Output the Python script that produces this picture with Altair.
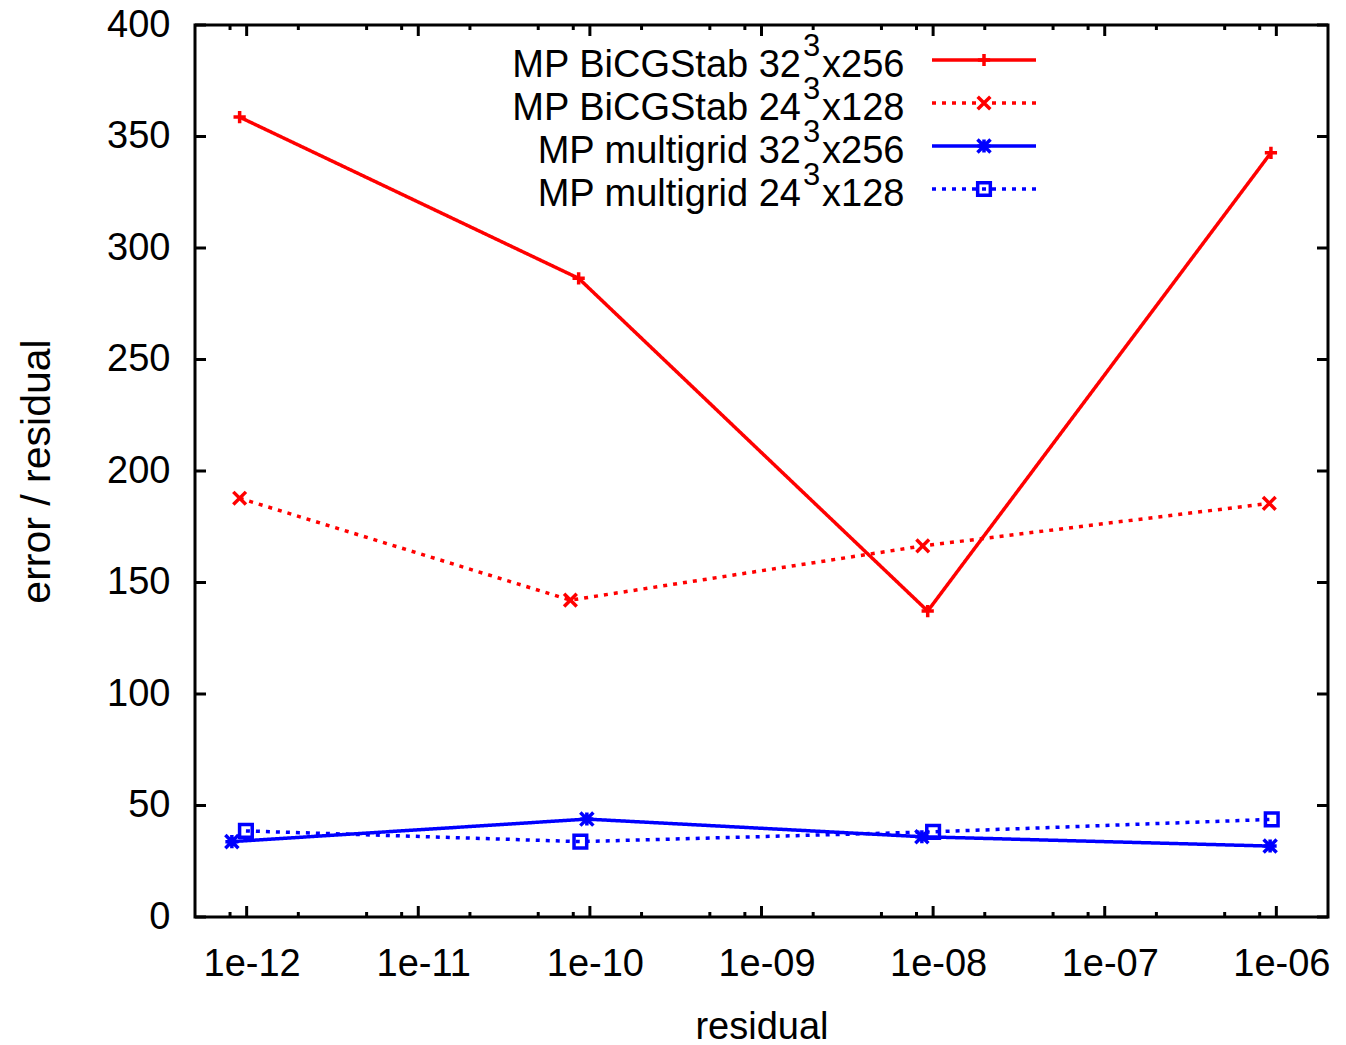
import altair as alt
import pandas as pd

# ---------------- data ----------------
series_names = [
    "MP BiCGStab 32^3x256",
    "MP BiCGStab 24^3x128",
    "MP multigrid 32^3x256",
    "MP multigrid 24^3x128",
]
bicg32_x = [9.1e-13, 8.6e-11, 9.3e-9, 9.3e-7]
bicg32_y = [358.7, 286.4, 137.2, 342.7]
bicg24_x = [9.1e-13, 7.7e-11, 8.7e-9, 9.1e-7]
bicg24_y = [187.8, 142.1, 166.4, 185.5]
mg32_x = [8.2e-13, 9.6e-11, 8.6e-9, 9.2e-7]
mg32_y = [33.8, 43.9, 36.0, 31.8]
mg24_x = [9.9e-13, 8.8e-11, 1.0e-8, 9.4e-7]
mg24_y = [38.6, 33.8, 38.2, 43.8]

x_major_ticks = [1e-12, 1e-11, 1e-10, 1e-9, 1e-8, 1e-7, 1e-6]
x_tick_labels = ["1e-12", "1e-11", "1e-10", "1e-09", "1e-08", "1e-07", "1e-06"]
x_minor_ticks = [8e-13,
                 2e-12, 5e-12, 8e-12,
                 2e-11, 5e-11, 8e-11,
                 2e-10, 5e-10, 8e-10,
                 2e-9, 5e-9, 8e-9,
                 2e-8, 5e-8, 8e-8,
                 2e-7, 5e-7, 8e-7]
y_ticks = [0, 50, 100, 150, 200, 250, 300, 350, 400]

legend_main = ["MP BiCGStab 32", "MP BiCGStab 24", "MP multigrid 32", "MP multigrid 24"]
legend_sup = ["3", "3", "3", "3"]
legend_tail = ["x256", "x128", "x256", "x128"]

# ---------------- styling ----------------
W, H = 1133, 892
FONT = "Liberation Sans"
FS = 38
LW = 3.5
RED, BLUE = "#ff0000", "#0000ff"
colors = [RED, RED, BLUE, BLUE]
dashes = [[1, 0], [4, 6], [1, 0], [4, 6]]
PLUS = "M-1,0L1,0M0,-1L0,1"
CROSS = "M-1,-1L1,1M-1,1L1,-1"
STAR = "M-1,0L1,0M0,-1L0,1M-1,-1L1,1M-1,1L1,-1"
SQUARE = "M-1,-1L1,-1L1,1L-1,1Z"
shapes = [PLUS, CROSS, STAR, SQUARE]
sizes = [150, 160, 170, 160]

xs = [bicg32_x, bicg24_x, mg32_x, mg24_x]
ys = [bicg32_y, bicg24_y, mg32_y, mg24_y]
rows = []
for name, sx, sy in zip(series_names, xs, ys):
    for a, b in zip(sx, sy):
        rows.append({"series": name, "x": a, "y": b})
df = pd.DataFrame(rows)

xscale = alt.Scale(type="log", domain=[5e-13, 2e-6], nice=False)
yscale = alt.Scale(domain=[0, 400], nice=False, zero=False)

label_expr = "[" + ",".join("'%s'" % s for s in x_tick_labels) + "][round(log(datum.value)/LN10)+12]"

x_axis = alt.Axis(
    values=x_major_ticks, labelExpr=label_expr, grid=False, domain=False, ticks=False,
    tickSize=0, labelFont=FONT, labelFontSize=FS, labelColor="black", labelPadding=28,
    labelOffset=5, labelFlush=False, labelOverlap=False, title="residual",
    titleFont=FONT, titleFontSize=FS, titleFontWeight="normal", titleColor="black",
    titleX=W / 2, titleY=121, titleBaseline="alphabetic", titleAlign="center",
)
y_axis = alt.Axis(
    values=y_ticks, grid=False, domain=False, ticks=False, tickSize=0,
    labelFont=FONT, labelFontSize=FS, labelColor="black", labelPadding=25,
    labelFlush=False, labelOverlap=False, title="error / residual",
    titleFont=FONT, titleFontSize=41, titleFontWeight="normal", titleColor="black",
    titleX=-146, titleY=H / 2, titleAngle=270, titleBaseline="alphabetic", titleAlign="center",
)

X = lambda: alt.X("x:Q", scale=xscale, axis=x_axis)
Y = lambda: alt.Y("y:Q", scale=yscale, axis=y_axis)

layers = []

# tick marks (inward, mirrored)
xmaj = pd.DataFrame({"x": x_major_ticks})
xmin = pd.DataFrame({"x": x_minor_ticks})
yt = pd.DataFrame({"y": y_ticks})
for dfx, ln in [(xmaj, 11), (xmin, 5)]:
    for y0, y1 in [(H, H - ln), (0, ln)]:
        layers.append(
            alt.Chart(dfx).mark_rule(color="black", strokeWidth=3).encode(
                x=X(), y=alt.value(y0), y2=alt.value(y1),
            )
        )
for x0, x1 in [(0, 11), (W, W - 11)]:
    layers.append(
        alt.Chart(yt).mark_rule(color="black", strokeWidth=3).encode(
            y=Y(), x=alt.value(x0), x2=alt.value(x1),
        )
    )

# data lines and points
for i, name in enumerate(series_names):
    sub = df[df.series == name]
    layers.append(
        alt.Chart(sub).mark_line(color=colors[i], strokeWidth=LW, strokeDash=dashes[i]).encode(
            x=X(), y=Y(),
        )
    )
for i, name in enumerate(series_names):
    sub = df[df.series == name]
    layers.append(
        alt.Chart(sub).mark_point(shape=shapes[i], filled=False, color=colors[i],
                                  strokeWidth=LW, size=sizes[i], opacity=1).encode(
            x=X(), y=Y(),
        )
    )

# legend (manual, gnuplot style)
one = pd.DataFrame({"k": [0]})
base_lines = [52, 95, 138, 181]
for i in range(4):
    b = base_lines[i]
    layers.append(alt.Chart(one).mark_text(font=FONT, fontSize=FS, align="right", baseline="alphabetic",
                                           color="black").encode(
        x=alt.value(606), y=alt.value(b), text=alt.value(legend_main[i])))
    layers.append(alt.Chart(one).mark_text(font=FONT, fontSize=31, align="left", baseline="alphabetic",
                                           color="black").encode(
        x=alt.value(608), y=alt.value(b - 21), text=alt.value(legend_sup[i])))
    layers.append(alt.Chart(one).mark_text(font=FONT, fontSize=FS, align="left", baseline="alphabetic",
                                           color="black").encode(
        x=alt.value(627), y=alt.value(b), text=alt.value(legend_tail[i])))
    ly = b - 17
    layers.append(alt.Chart(one).mark_rule(color=colors[i], strokeWidth=LW, strokeDash=dashes[i]).encode(
        x=alt.value(737), x2=alt.value(841), y=alt.value(ly)))
    layers.append(alt.Chart(one).mark_point(shape=shapes[i], filled=False, color=colors[i],
                                            strokeWidth=LW, size=sizes[i], opacity=1).encode(
        x=alt.value(789), y=alt.value(ly)))

chart = alt.layer(*layers).properties(
    width=W, height=H,
    autosize=alt.AutoSizeParams(type="none"),
    padding={"left": 195, "top": 25, "right": 18, "bottom": 128},
    background="white",
).configure_view(stroke="black", strokeWidth=3)

chart.save("out.html", embed_options={"renderer": "svg", "actions": False})
